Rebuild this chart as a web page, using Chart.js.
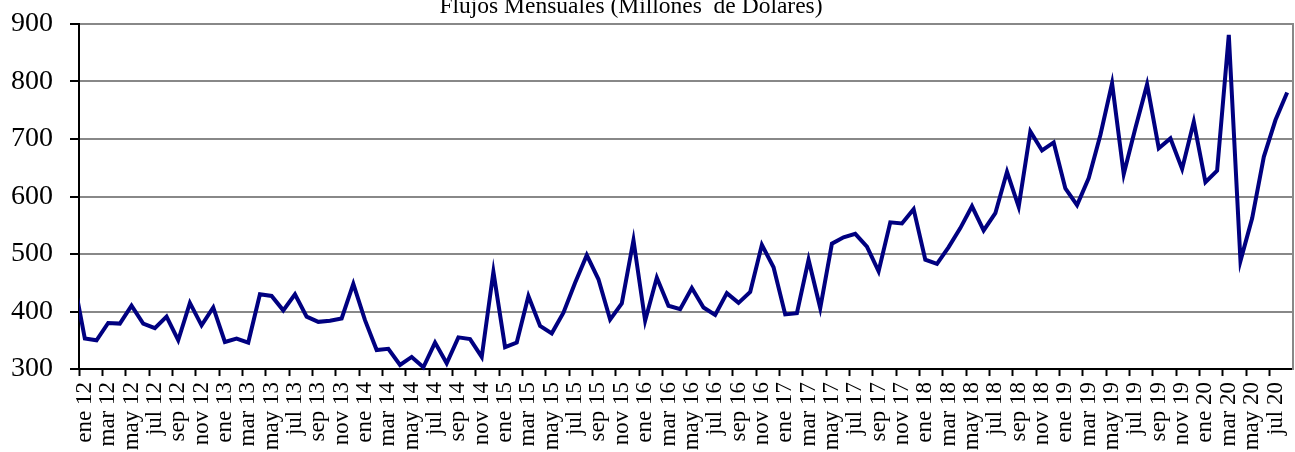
<!DOCTYPE html>
<html lang="es">
<head>
  <meta charset="UTF-8" />
  <title>Flujos Mensuales</title>
  <style>
    body {
      margin: 0;
      background-color: #fff;
    }
    #wrap {
      width: 1295px;
      height: 452px;
    }
  </style>
</head>
<body>
  <div id="wrap"><canvas id="flujos-chart"></canvas></div>

  <script src="https://cdn.jsdelivr.net/npm/chart.js"></script>
  <script>
    const titulo = 'Flujos Mensuales (Millones  de Dólares)';

    const mesesAbrev = ['ene', 'feb', 'mar', 'abr', 'may', 'jun', 'jul', 'ago', 'sep', 'oct', 'nov', 'dic'];

    // Etiquetas de dic 11 a ago 20 (dic 11 queda fuera del eje, solo se ve el tramo recortado).
    const meses = ['dic 11'];
    for (let anio = 12; anio <= 20; anio++) {
      mesesAbrev.forEach((m, k) => {
        if (anio < 20 || k < 8) meses.push(m + ' ' + anio);
      });
    }

    // Millones de dólares por mes, mismo orden que meses.
    const flujos = [
      460,
      353, 350, 380, 379, 410, 379, 371, 391, 350, 415, 376, 407, // 2012
      347, 353, 346, 430, 427, 402, 430, 391, 382, 384, 388, 448, // 2013
      385, 333, 335, 307, 321, 303, 346, 310, 355, 352, 321, 469, // 2014
      338, 346, 427, 375, 362, 398, 450, 498, 456, 386, 414, 524, // 2015
      384, 459, 410, 404, 441, 407, 394, 432, 415, 434, 516, 477, // 2016
      395, 397, 490, 406, 518, 529, 535, 513, 470, 555, 553, 578, // 2017
      490, 483, 512, 545, 583, 541, 571, 643, 582, 713, 680, 694, // 2018
      614, 585, 632, 707, 797, 639, 719, 795, 684, 701, 648, 730, // 2019
      625, 645, 881, 488, 562, 669, 733, 781                      // 2020
    ];

    const ticksY = [300, 400, 500, 600, 700, 800, 900];

    const SERIF = '"Liberation Serif", "Times New Roman", serif';

    // x = posición del mes; ene 12 es 0, dic 11 cae en -1.
    const puntos = flujos.map((v, i) => ({ x: i - 1, y: v }));

    // Título arriba, pegado al borde del lienzo.
    const tituloPlugin = {
      id: 'tituloSuperior',
      afterDraw(chart) {
        const ctx = chart.ctx;
        ctx.save();
        ctx.font = '23.5px ' + SERIF;
        ctx.fillStyle = '#000';
        ctx.textAlign = 'center';
        ctx.textBaseline = 'alphabetic';
        ctx.fillText(titulo, 631, 13);
        ctx.restore();
      }
    };

    // sin márgenes extra por las etiquetas de los extremos
    const sinPadding = s => {
      s.paddingTop = 0;
      s.paddingBottom = 0;
      s.paddingLeft = 0;
      s.paddingRight = 0;
    };

    new Chart(document.getElementById('flujos-chart'), {
      type: 'line',
      data: {
        datasets: [{
          data: puntos,
          borderColor: '#000080',
          borderWidth: 4,
          pointRadius: 0,
          tension: 0,
          clip: { left: 0, top: 5, right: 5, bottom: 5 }
        }]
      },
      options: {
        responsive: true,
        maintainAspectRatio: false,
        animation: false,
        layout: { padding: { top: 24, right: 2, bottom: 0, left: 0 } },
        plugins: {
          legend: { display: false },
          tooltip: { enabled: false }
        },
        scales: {
          x: {
            type: 'linear',
            min: -0.5,
            max: 103.5,
            afterBuildTicks: s => {
              s.ticks = meses.slice(1).map((_, i) => ({ value: i }));
            },
            afterFit: s => {
              s.height = 83;
              sinPadding(s);
            },
            ticks: {
              autoSkip: false,
              minRotation: 90,
              maxRotation: 90,
              padding: 6,
              color: '#000',
              font: { family: SERIF, size: 23 },
              callback: (v, i) => (i % 2 === 0 ? meses[v + 1] : '')
            },
            grid: {
              offset: true,
              drawOnChartArea: false,
              tickLength: 7,
              tickWidth: 2,
              tickColor: c => (c.index % 2 === 0 ? '#000' : 'rgba(0,0,0,0)')
            },
            border: { color: '#000', width: 2 }
          },
          y: {
            min: 300,
            max: 900,
            afterBuildTicks: s => {
              s.ticks = ticksY.map(v => ({ value: v }));
            },
            afterFit: s => {
              s.width = 79;
              sinPadding(s);
            },
            ticks: {
              padding: 17,
              color: '#000',
              font: { family: SERIF, size: 28 }
            },
            grid: {
              color: '#888',
              lineWidth: 2,
              tickColor: '#000',
              tickLength: 9,
              tickWidth: 2
            },
            border: { color: '#000', width: 2 }
          },
          // borde derecho del área de trazado
          marco: {
            position: 'right',
            min: 300,
            max: 900,
            afterFit: s => {
              s.width = 0;
              sinPadding(s);
            },
            ticks: { display: false },
            grid: { display: false },
            border: { color: '#888', width: 2 }
          }
        }
      },
      plugins: [tituloPlugin]
    });
  </script>
</body>
</html>
